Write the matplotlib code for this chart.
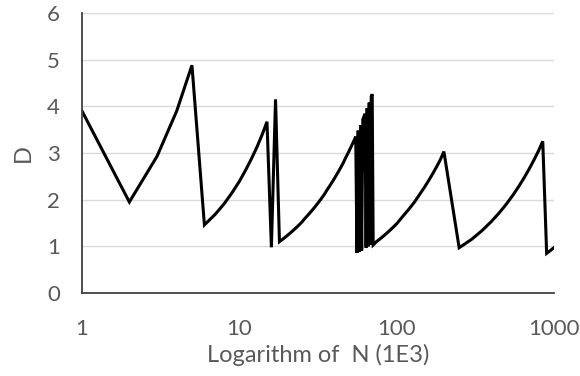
import matplotlib
matplotlib.use('Agg')
import matplotlib.pyplot as plt

plt.rcParams['font.family'] = ['Lato', 'DejaVu Sans']

# N values (in 1E3): 1..100 step 1, 110..200 step 10, then 250..1000 step 50
n_small = list(range(1, 101))
n_mid = list(range(110, 201, 10))
n_large = list(range(250, 1001, 50))
N = n_small + n_mid + n_large

# D
d_small = [3.90, 1.95, 2.93, 3.90, 4.88,                  # 1-5
           1.46, 1.68, 1.91, 2.15, 2.39, 2.64, 2.89, 3.14, 3.40, 3.67,  # 6-15
           0.98, 4.15, 1.10,                              # 16-18
           1.16, 1.22, 1.28, 1.34, 1.40, 1.46, 1.52, 1.59, 1.65, 1.71,  # 19-28
           1.77, 1.83, 1.89, 1.95, 2.01, 2.07, 2.13, 2.20, 2.26, 2.32,  # 29-38
           2.38, 2.44, 2.50, 2.56, 2.62, 2.68, 2.74, 2.80, 2.87, 2.93,  # 39-48
           2.99, 3.05, 3.11, 3.17, 3.23, 3.29,                          # 49-54
           3.35, 0.86, 3.48, 0.88, 3.60, 0.91, 3.72, 3.78, 3.84, 0.97,  # 55-64
           3.96, 1.00, 4.08, 1.03, 4.21, 4.26,                          # 65-70
           1.03, 1.05, 1.07, 1.09, 1.11, 1.12, 1.14, 1.15, 1.17, 1.18,  # 71-80
           1.20, 1.21, 1.23, 1.24, 1.26, 1.27, 1.29, 1.30, 1.32, 1.33,  # 81-90
           1.35, 1.36, 1.38, 1.39, 1.41, 1.42, 1.44, 1.45, 1.47, 1.48]  # 91-100
d_mid = [1.65, 1.80, 1.95, 2.11, 2.26, 2.41, 2.56, 2.71, 2.86, 3.03]  # 110-200
d_large = [0.97, 1.15, 1.34, 1.53, 1.72, 1.91, 2.10, 2.29, 2.48, 2.67,  # 250-700
           2.86, 3.05, 3.25,                              # 750-850
           0.85, 0.91, 0.97]                              # 900-1000
D = d_small + d_mid + d_large

fig = plt.figure(figsize=(5.8, 3.76), dpi=100)
ax = fig.add_axes([0.1414, 0.2207, 0.8135, 0.7447])

ax.plot(N, D, color='black', linewidth=2.2, solid_joinstyle='miter')

ax.set_xscale('log')
ax.set_xlim(1, 1000)
ax.set_ylim(0, 6)
ax.set_xticks([1, 10, 100, 1000])
ax.set_xticklabels(['1', '10', '100', '1000'])
ax.set_xticks([], minor=True)
ax.set_yticks(range(0, 7))

ax.grid(axis='y', color='#d9d9d9', linewidth=1)
ax.set_axisbelow(True)
for s in ['top', 'right']:
    ax.spines[s].set_visible(False)
for s in ['left', 'bottom']:
    ax.spines[s].set_color('#404040')
    ax.spines[s].set_linewidth(1.3)

ax.tick_params(axis='both', length=0, labelsize=16, labelcolor='#595959')
ax.tick_params(axis='y', pad=16)
ax.tick_params(axis='x', pad=19)

ax.set_xlabel('Logarithm of  N (1E3)', fontsize=17, color='#595959', labelpad=3)
ax.set_ylabel('D', fontsize=17, color='#595959', labelpad=9)

fig.savefig('out.png', dpi=100)
